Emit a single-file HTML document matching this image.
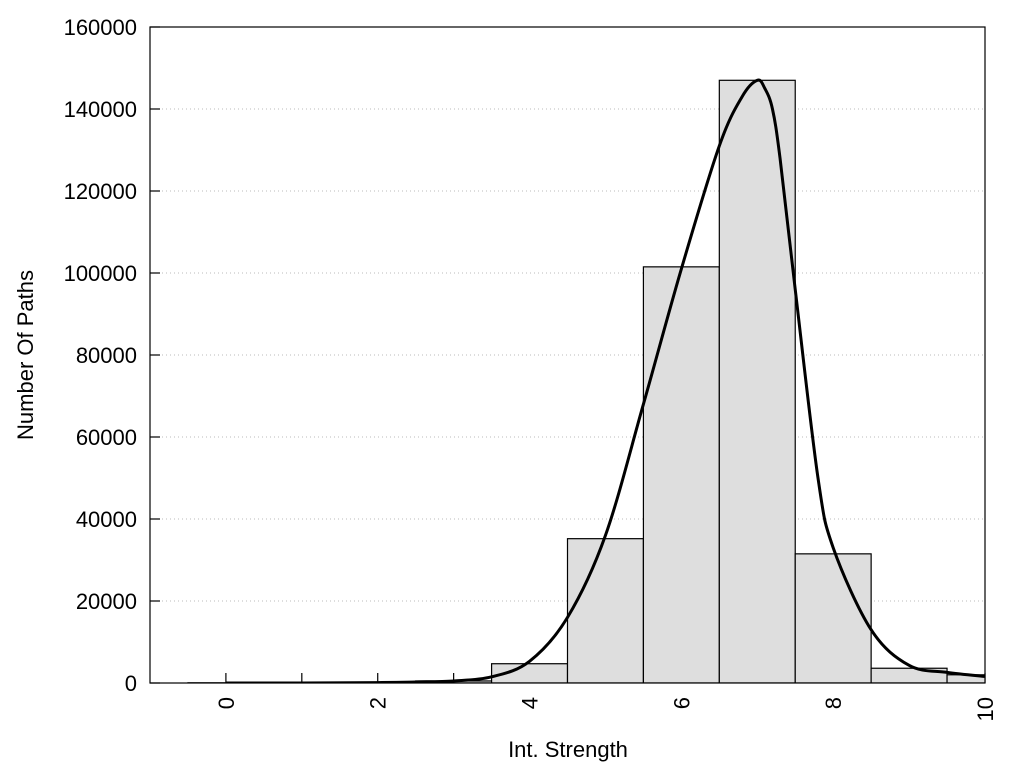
<!DOCTYPE html>
<html><head><meta charset="utf-8"><style>
html,body{margin:0;padding:0;background:#fff;}
svg{display:block;font-family:"Liberation Sans",sans-serif;}
</style></head><body>
<svg id="chart" width="1024" height="768" xmlns="http://www.w3.org/2000/svg"></svg>
<script>
const binCenters=[0,1,2,3,4,5,6,7,8,9,10];
const binCounts=[50,80,150,500,4700,35200,101500,147000,31500,3600,2000];
const curveX=[0,1,2,2.5,3,3.5,4,4.5,5,5.5,6,6.5,6.8,7,7.1,7.2,7.3,7.5,7.8,8,8.5,9,9.5,10];
const curveY=[0,0,100,250,500,1500,5300,16000,36000,68000,101000,131000,143000,147000,145000,140000,128000,96000,50000,33000,13000,4300,2600,1600];
const xTicks=[0,2,4,6,8,10];
const xMinor=[1,3,5,7,9];
const yTicks=[0,20000,40000,60000,80000,100000,120000,140000,160000];

const L=150,R=985,T=27,B=683,xMin=-1,xMax=10,yMax=160000;
const sx=v=>L+(v-xMin)/(xMax-xMin)*(R-L);
const sy=v=>B-v/yMax*(B-T);
const svg=document.getElementById('chart');
const NS='http://www.w3.org/2000/svg';
function mk(tag,attrs,parent){const e=document.createElementNS(NS,tag);for(const k in attrs)e.setAttribute(k,attrs[k]);(parent||svg).appendChild(e);return e;}

const defs=mk('defs',{});const cp=mk('clipPath',{id:'clip'},defs);mk('rect',{x:L,y:T,width:R-L,height:B-T},cp);

yTicks.forEach(v=>{if(v===0||v===yMax)return;
 const g=mk('line',{x1:L,x2:R,y1:sy(v),y2:sy(v),stroke:'#bbb','stroke-width':1,'stroke-dasharray':'1,3'});
 
 });

xTicks.concat(xMinor).forEach(v=>{
 const t=mk('line',{x1:sx(v),x2:sx(v),y1:B,y2:B-10,stroke:'#000','stroke-width':1.2});
 
 
});

const bars=mk('g',{'clip-path':'url(#clip)'});


binCenters.forEach((c,i)=>{
 const r=mk('rect',{x:sx(c-0.5),y:sy(binCounts[i]),width:sx(c+0.5)-sx(c-0.5),height:B-sy(binCounts[i]),fill:'#dedede',stroke:'#000','stroke-width':1.2},bars);
 
 
});

yTicks.forEach(v=>{
 const t=mk('line',{x1:L,x2:L+10,y1:sy(v),y2:sy(v),stroke:'#000','stroke-width':1.2});
 
 
 const tx=mk('text',{x:137,y:sy(v)+8,'text-anchor':'end','font-size':22});
 tx.textContent=v;
 
 
});
xTicks.forEach(v=>{
 const tx=mk('text',{transform:`translate(${sx(v)+8},697) rotate(-90)`,'text-anchor':'end','font-size':22});
 tx.textContent=v;
 
 
});

const pts=curveX.map((x,i)=>[sx(x),sy(curveY[i])]);
let d='M'+pts[0][0]+','+pts[0][1];
for(let i=0;i<pts.length-1;i++){
 const p0=pts[Math.max(0,i-1)],p1=pts[i],p2=pts[i+1],p3=pts[Math.min(pts.length-1,i+2)];
 const c1=[p1[0]+(p2[0]-p0[0])/6,p1[1]+(p2[1]-p0[1])/6];
 const c2=[p2[0]-(p3[0]-p1[0])/6,p2[1]-(p3[1]-p1[1])/6];
 d+=` C${c1[0]},${c1[1]} ${c2[0]},${c2[1]} ${p2[0]},${p2[1]}`;
}
const curve=mk('path',{d:d,fill:'none',stroke:'#000','stroke-width':3,'clip-path':'url(#clip)'});



const frame=mk('rect',{x:L,y:T,width:R-L,height:B-T,fill:'none',stroke:'#000','stroke-width':1.2});



const xl=mk('text',{x:568,y:757,'text-anchor':'middle','font-size':22});
xl.textContent='Int. Strength';


const yl=mk('text',{transform:'translate(33,355) rotate(-90)','text-anchor':'middle','font-size':22});
yl.textContent='Number Of Paths';


</script>
</body></html>
